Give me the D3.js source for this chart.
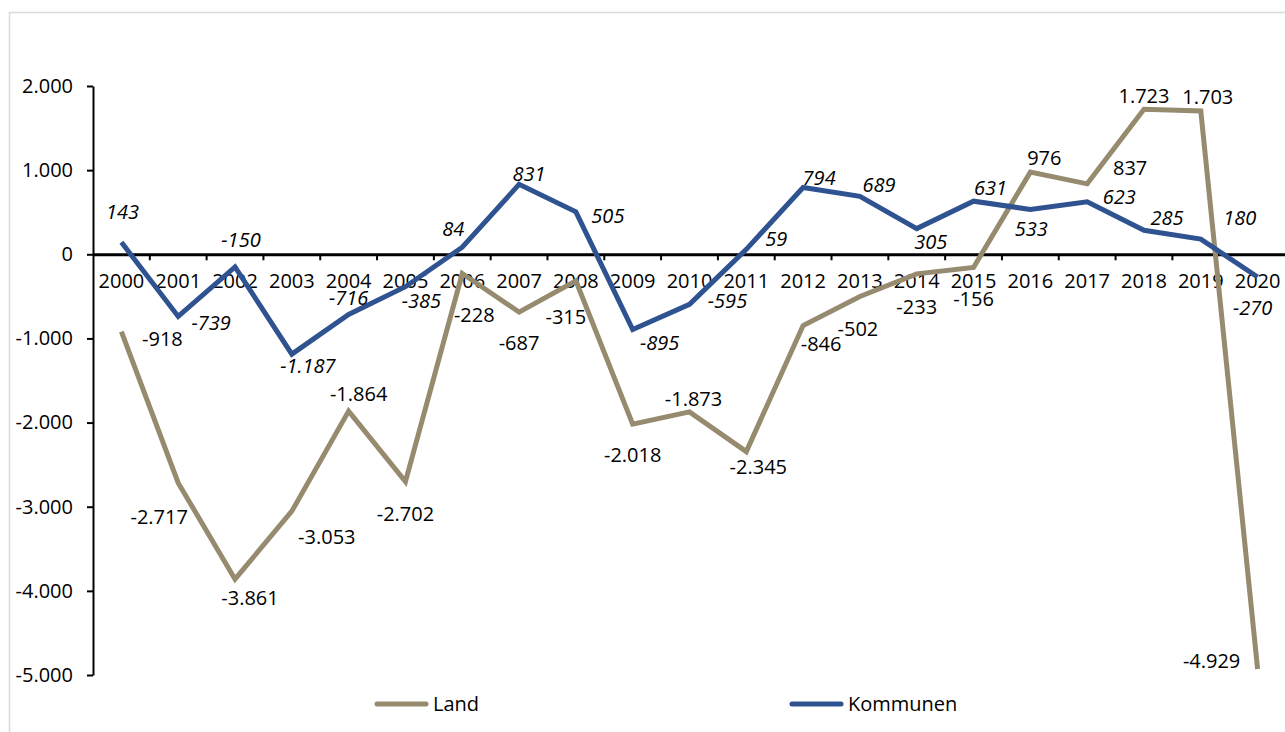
<!DOCTYPE html>
<html>
<head>
<meta charset="utf-8">
<script src="https://cdn.jsdelivr.net/npm/d3@7/dist/d3.min.js"></script>
<style>
  html, body { margin: 0; padding: 0; background: #fff; }
  svg { display: block; font-family: "Open Sans", "Noto Sans", sans-serif; }
</style>
</head>
<body>
<svg id="chart" width="1285" height="732"></svg>
<script>
const years = ["2000","2001","2002","2003","2004","2005","2006","2007","2008","2009","2010",
               "2011","2012","2013","2014","2015","2016","2017","2018","2019","2020"];
const land = [-918, -2717, -3861, -3053, -1864, -2702, -228, -687, -315, -2018, -1873,
              -2345, -846, -502, -233, -156, 976, 837, 1723, 1703, -4929];
const kommunen = [143, -739, -150, -1187, -716, -385, 84, 831, 505, -895, -595,
                  59, 794, 689, 305, 631, 533, 623, 285, 180, -270];
const yTicks = [2000, 1000, 0, -1000, -2000, -3000, -4000, -5000];
const seriesNames = ["Land", "Kommunen"];

// label offsets (pixels) relative to each point, as placed in the original
const landLabelOffsets = [[41,7],[-19,34],[15,19],[35,26],[10,-17],[0,32],[12,41],[0,31],[-10,36],[0,31],[4,-13],
  [12,15],[18,18],[-2,32],[0,33],[0,31],[14,-14],[43,-16],[0,-14],[7,-14],[-46,-8]];
const kommLabelOffsets = [[1,-30],[33,6],[6,-27],[16,12],[0,-17],[16,14],[-9,-18],[10,-11],[32,4],[27,13],[38,-4],
  [30,-11],[16,-10],[19,-12],[14,13],[17,-13],[1,19],[32,-5],[23,-13],[39,-21],[-5,31]];

const colors = { Land: "#968b6f", Kommunen: "#2f5290" };

const svg = d3.select("#chart");
const locale = d3.formatLocale({ decimal: ",", thousands: ".", grouping: [3], currency: ["", "€"], minus: "-" });
const fmt = locale.format(",");

// outer frame
svg.append("rect").attr("x", 9.5).attr("y", 12.5).attr("width", 1300).attr("height", 740)
  .attr("fill", "none").attr("stroke", "#d9d9d9").attr("stroke-width", 1.5);

const x = d3.scaleBand().domain(years).range([93, 1286]).padding(0);
const y = d3.scaleLinear().domain([-5000, 2000]).range([675, 86]);
const cx = d => x(d) + x.bandwidth() / 2;

// y axis
const yAxis = svg.append("g").attr("transform", "translate(93,0)")
  .call(d3.axisLeft(y).tickValues(yTicks).tickFormat(fmt).tickSize(6).tickSizeOuter(0));
yAxis.select(".domain").attr("stroke", "#000").attr("stroke-width", 2);
yAxis.selectAll(".tick line").attr("stroke", "#000").attr("stroke-width", 2);
yAxis.selectAll(".tick text").attr("font-size", 20).attr("fill", "#000")
  .attr("font-family", "'Open Sans', sans-serif").attr("x", -20);

// x axis at zero
const xAxis = svg.append("g").attr("transform", `translate(0,${y(0)})`)
  .call(d3.axisBottom(x).tickSize(0).tickSizeOuter(0));
xAxis.select(".domain").attr("stroke", "#000").attr("stroke-width", 3);
xAxis.selectAll(".tick text").attr("font-size", 20).attr("fill", "#000")
  .attr("font-family", "'Open Sans', sans-serif").attr("y", 20);
// tick marks between categories
const bounds = years.map(d => x(d)).concat([x(years[years.length-1]) + x.bandwidth()]);
xAxis.selectAll("line.sep").data(bounds.slice(1)).enter().append("line")
  .attr("class", "sep").attr("x1", d => d).attr("x2", d => d)
  .attr("y1", 0).attr("y2", 6).attr("stroke", "#000").attr("stroke-width", 2);

const line = d3.line().x((d, i) => cx(years[i])).y(d => y(d));

function drawSeries(values, name) {
  svg.append("path").datum(values).attr("d", line)
    .attr("fill", "none").attr("stroke", colors[name]).attr("stroke-width", 5)
    .attr("stroke-linejoin", "miter");
}
drawSeries(land, "Land");
drawSeries(kommunen, "Kommunen");

function drawLabels(values, offsets, italic) {
  svg.append("g").selectAll("text").data(values).enter().append("text")
    .attr("x", (d, i) => cx(years[i]) + offsets[i][0])
    .attr("y", (d, i) => y(d) + offsets[i][1])
    .attr("dy", "0.36em")
    .attr("text-anchor", "middle")
    .attr("font-size", 20)
    .attr("font-style", italic ? "italic" : "normal")
    .attr("fill", "#000")
    .text(d => fmt(d));
}
drawLabels(land, landLabelOffsets, false);
drawLabels(kommunen, kommLabelOffsets, true);

// legend
const legendX = [375, 790];
seriesNames.forEach((name, i) => {
  const g = svg.append("g").attr("transform", `translate(${legendX[i]},704)`);
  g.append("line").attr("x1", 2).attr("x2", 51).attr("y1", 0).attr("y2", 0)
    .attr("stroke", colors[name]).attr("stroke-width", 5).attr("stroke-linecap", "round");
  g.append("text").attr("x", 58).attr("y", 0).attr("dy", "0.36em")
    .attr("font-size", 20).attr("fill", "#000").text(name);
});
</script>
</body>
</html>
